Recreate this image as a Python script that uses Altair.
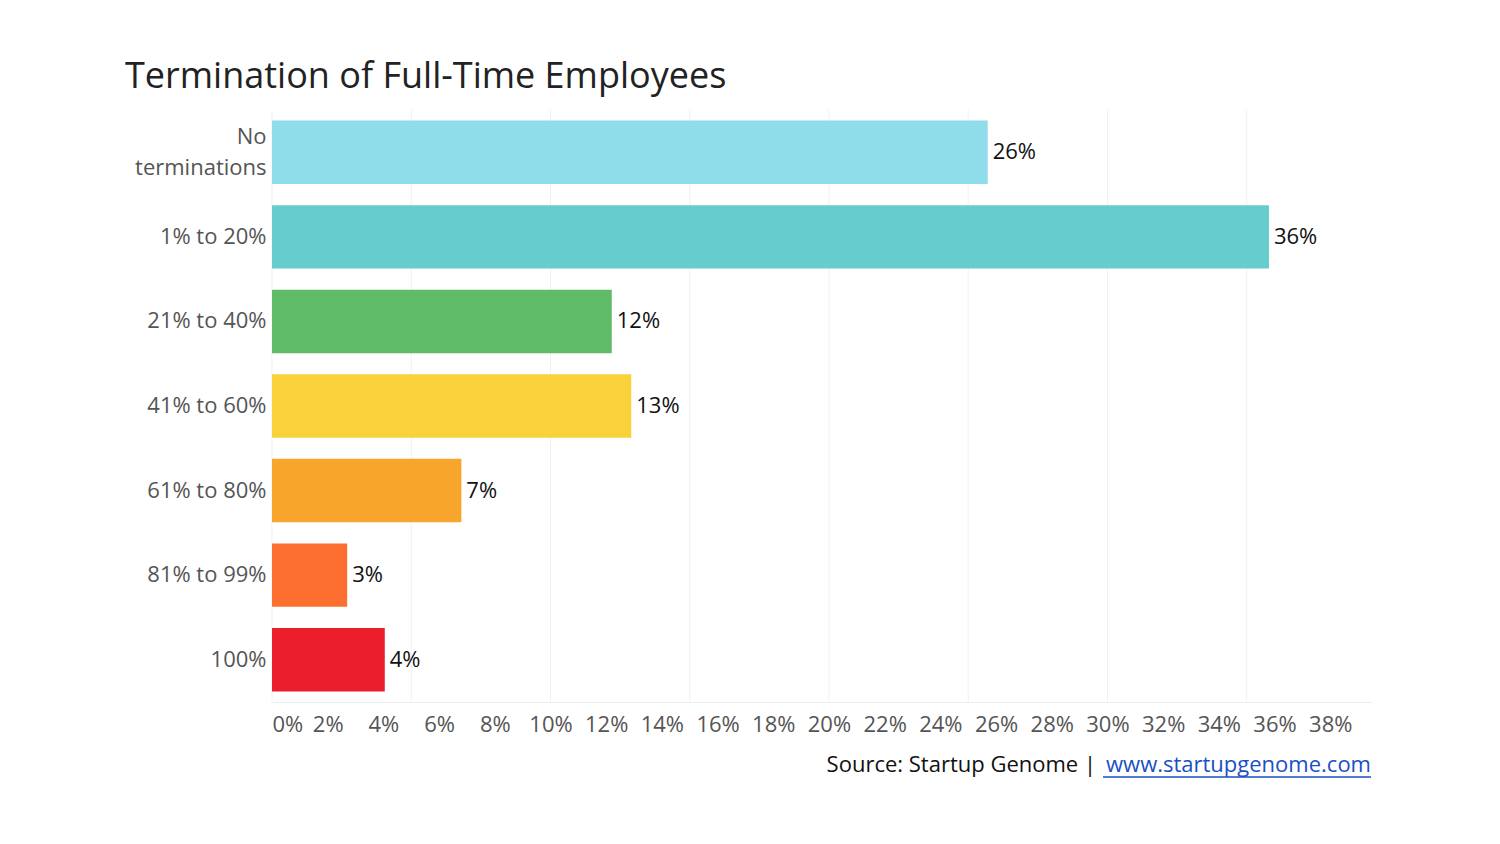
import altair as alt
import pandas as pd

categories = ["No terminations", "1% to 20%", "21% to 40%", "41% to 60%",
              "61% to 80%", "81% to 99%", "100%"]
values = [25.7, 35.8, 12.2, 12.9, 6.8, 2.7, 4.05]
value_labels = ["26%", "36%", "12%", "13%", "7%", "3%", "4%"]
colors = ["#8fdcea", "#66cdcc", "#5fbb67", "#f9d23a", "#f8a62b", "#fd6f31", "#eb1e2c"]
x_ticks = list(range(0, 40, 2))
grid_values = [0, 5, 10, 15, 20, 25, 30, 35]
x_domain = [0, 39.5]
title_text = "Termination of Full-Time Employees"
source_text = "Source: Startup Genome |"
link_text = "www.startupgenome.com"

FONT = "Open Sans"

df = pd.DataFrame({"cat": categories, "value": values, "label": value_labels})
grid_df = pd.DataFrame({"value": grid_values})

xscale = alt.Scale(domain=x_domain, nice=False, zero=True)
yscale = alt.Scale(domain=categories, paddingInner=0.25, paddingOuter=0.125)

xaxis = alt.Axis(values=x_ticks, labelExpr="datum.value + '%'", title=None,
                 grid=False, ticks=False, domain=True, domainColor="#eeeeee",
                 labelFontSize=22, labelColor="#555555", labelFont=FONT,
                 labelPadding=12, labelFlush=True, labelOverlap=False)

grid = alt.Chart(grid_df).mark_rule(color="#f1f1f1", strokeWidth=1).encode(
    x=alt.X("value:Q", scale=xscale, axis=xaxis)
)

bars = alt.Chart(df).mark_bar().encode(
    x=alt.X("value:Q", scale=xscale, axis=xaxis),
    y=alt.Y("cat:N", scale=yscale, sort=categories,
            axis=alt.Axis(title=None, ticks=False, domain=False, grid=False,
                          labelFontSize=22, labelColor="#555555", labelFont=FONT,
                          labelPadding=6, labelLimit=400, labelLineHeight=31,
                          labelOffset={"condition": {"test": "datum.value == 'No terminations'",
                                                     "value": -15}, "value": 0},
                          labelExpr="datum.label == 'No terminations' ? ['No', 'terminations'] : datum.label")),
    color=alt.Color("cat:N", scale=alt.Scale(domain=categories, range=colors), legend=None),
)

texts = alt.Chart(df).mark_text(align="left", baseline="middle", dx=5, fontSize=22,
                                font=FONT, color="#111111").encode(
    x=alt.X("value:Q", scale=xscale, axis=xaxis),
    y=alt.Y("cat:N", scale=yscale, sort=categories),
    text="label:N",
)

src = alt.Chart(pd.DataFrame({"t": [source_text]})).mark_text(
    align="right", baseline="middle", fontSize=22, font=FONT, color="#111111"
).encode(x=alt.value(824), y=alt.value(655), text="t:N")

link = alt.Chart(pd.DataFrame({"t": [link_text]})).mark_text(
    align="right", baseline="middle", fontSize=22, font=FONT, color="#1a4fc4"
).encode(x=alt.value(1099), y=alt.value(655), text="t:N")

underline = alt.Chart(pd.DataFrame({"t": [link_text]})).mark_rule(
    color="#1a4fc4", strokeWidth=1.5
).encode(x=alt.value(831), x2=alt.value(1099), y=alt.value(667))

chart = alt.layer(grid, bars, texts, src, link, underline).properties(
    width=1100, height=592,
    title=alt.TitleParams(title_text, anchor="start", frame="group", dx=-147,
                          offset=14, fontSize=36, font=FONT, fontWeight="normal",
                          color="#222222"),
    autosize=alt.AutoSizeParams(type="none"),
    padding={"left": 264, "top": 102, "right": 120, "bottom": 134},
).configure_view(stroke=None)

chart.save("out.html", embed_options={"renderer": "svg", "actions": False})
